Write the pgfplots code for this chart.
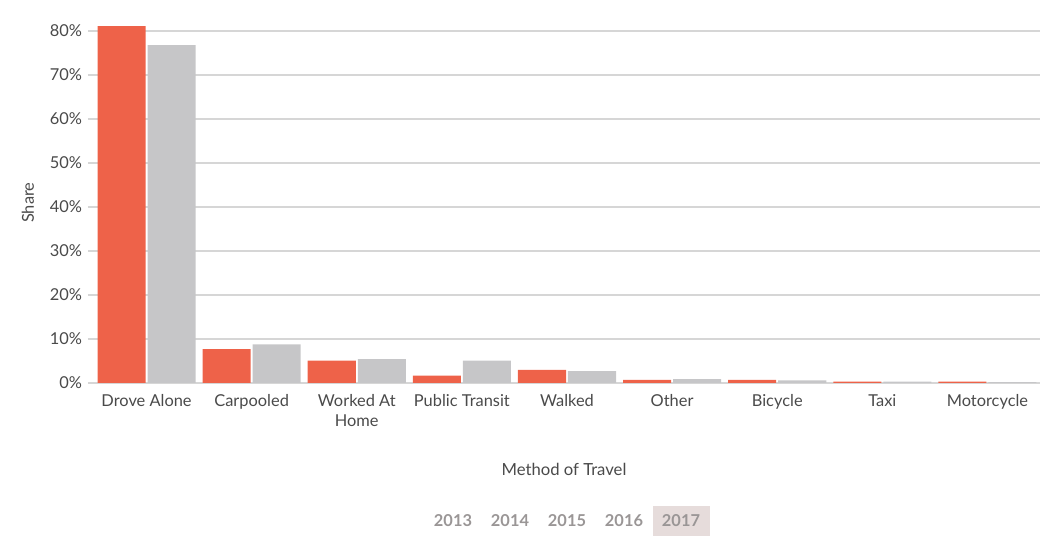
\documentclass[border=0pt]{standalone}
\usepackage{pgfplots}
\pgfplotsset{compat=1.18}
\usepackage{fontspec}
\setmainfont{Lato}
\definecolor{barred}{HTML}{EE6249}
\definecolor{bargray}{HTML}{C6C6C8}
\definecolor{gridc}{HTML}{D6D6D6}
\definecolor{txt}{HTML}{4A4A4A}
\definecolor{yeartxt}{HTML}{9A9696}
\definecolor{yearbg}{HTML}{E6DCDB}
\begin{document}
\begin{tikzpicture}
\begin{axis}[
  at={(0,0)}, anchor=south west,
  scale only axis,
  width=714pt, height=270.6pt,
  xmin=-0.557, xmax=8.5,
  ymin=0, ymax=82,
  axis line style={draw=none},
  ybar, bar width=0.457, bar shift auto=false,
  xtick={0,...,8},
  xticklabels={Drove Alone,Carpooled,{Worked At\\Home},Public Transit,Walked,Other,Bicycle,Taxi,Motorcycle},
  xtick style={draw=none},
  ytick={0,10,...,80},
  yticklabel={\pgfmathprintnumber{\tick}\%},
  ytick style={draw=none},
  ymajorgrids, grid style={gridc, line width=0.9pt},
  /pgf/number format/assume math mode=true,
  ticklabel style={font=\fontsize{12.3}{14.5}\selectfont, text=txt},
  xticklabel style={align=center, yshift=-1pt},
  yticklabel style={xshift=-1pt},
  ylabel={Share},
  ylabel style={at={(axis description cs:-0.063,0.5)}, anchor=center, font=\fontsize{12.3}{14.5}\selectfont, text=txt},
  xlabel={Method of Travel},
  xlabel style={at={(axis description cs:0.5,0)}, anchor=center, yshift=-65pt, font=\fontsize{12.5}{14.5}\selectfont, text=txt},
  clip=false,
]
\addplot[fill=barred, draw=none, bar shift=-0.238] coordinates {
 (0,81.1) (1,7.7) (2,5.1) (3,1.7) (4,3.0) (5,0.7) (6,0.7) (7,0.3) (8,0.3)};
\addplot[fill=bargray, draw=none, bar shift=0.238] coordinates {
 (0,76.8) (1,8.8) (2,5.4) (3,5.1) (4,2.7) (5,0.9) (6,0.6) (7,0.3) (8,0.2)};
\end{axis}
\fill[yearbg] (423.75pt,-92.25pt) rectangle (466.5pt,-114.75pt);
\begin{scope}[every node/.style={font=\bfseries\fontsize{12.3}{14}\selectfont, text=yeartxt}]
\node at (273.75pt,-103.5pt) {2013};
\node at (316.5pt,-103.5pt) {2014};
\node at (359.25pt,-103.5pt) {2015};
\node at (402pt,-103.5pt) {2016};
\node at (444.75pt,-103.5pt) {2017};
\end{scope}
\path[use as bounding box] (-66pt,-123.75pt) rectangle (719.25pt,287.25pt);
\end{tikzpicture}
\end{document}
